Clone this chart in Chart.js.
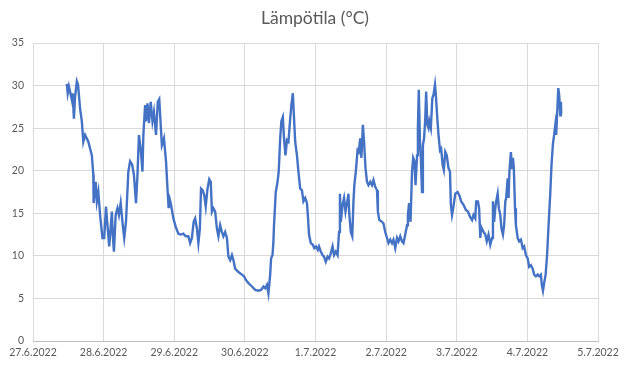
<!DOCTYPE html>
<html>
<head>
<meta charset="utf-8">
<script src="https://cdn.jsdelivr.net/npm/chart.js@4"></script>
<style>
  html, body { margin: 0; padding: 0; background: #fff; }
  #wrap { width: 630px; height: 373px; }
</style>
</head>
<body>
<div id="wrap"><canvas id="chart" width="630" height="373"></canvas></div>
<script>
/* ===== DATA ===== */
const TITLE = 'Lämpötila (°C)';
const DATE_LABELS = ['27.6.2022', '28.6.2022', '29.6.2022', '30.6.2022', '1.7.2022',
                     '2.7.2022', '3.7.2022', '4.7.2022', '5.7.2022'];
const Y_TICKS = [0, 5, 10, 15, 20, 25, 30, 35];

// hours since 27.6.2022 00:00
const hours = [
  11.5, 11.8, 12.2, 12.6, 13.2, 13.5, 13.9, 14.3, 14.9, 15.3, 16.0, 16.6, 17.1, 17.7, 18.8, 20.0,
  20.5, 20.6, 21.3, 21.7, 22.2, 22.8, 23.6, 24.2, 24.8, 25.4, 25.9, 26.8, 27.1, 27.5, 28.1, 28.7,
  29.2, 29.8, 30.5, 31.0, 31.6, 32.4, 33.0, 33.7, 34.3, 35.0, 35.5, 36.0, 36.6, 37.2, 37.5, 38.1,
  38.4, 38.9, 39.4, 40.0, 40.6, 41.1, 41.8, 42.4, 42.9, 43.4, 43.8, 44.5, 45.2, 45.7, 46.1, 46.5,
  46.9, 47.7, 48.5, 49.4, 50.2, 51.1, 51.9, 52.8, 53.4, 54.0, 54.6, 55.1, 55.7, 56.2, 56.7, 57.1,
  57.7, 58.2, 58.7, 59.3, 59.9, 60.4, 60.8, 61.3, 61.9, 62.5, 63.0, 63.6, 64.2, 64.7, 65.3, 65.9,
  66.4, 67.0, 67.6, 68.1, 68.7, 69.8, 71.0, 71.7, 72.3, 73.2, 74.4, 75.5, 76.6, 77.5, 78.3, 78.9,
  79.5, 80.0, 80.6, 80.9, 81.4, 81.7, 81.9, 82.5, 83.1, 83.5, 84.0, 84.4, 84.9, 85.3, 85.8, 86.3,
  86.8, 87.4, 87.8, 88.3, 88.6, 89.1, 89.7, 90.2, 90.8, 91.4, 91.9, 92.5, 93.1, 93.4, 93.8, 94.4,
  95.1, 95.6, 96.2, 96.8, 97.2, 97.8, 98.4, 98.9, 99.5, 100.1, 100.6, 101.2, 101.8, 102.3, 102.9, 103.5,
  104.0, 104.3, 104.6, 105.2, 105.7, 106.2, 106.8, 107.2, 107.5, 108.0, 108.5, 108.9, 109.2, 109.7, 110.3, 110.7,
  111.2, 111.6, 112.1, 112.5, 113.0, 113.5, 114.0, 114.6, 115.2, 115.7, 116.3, 116.9, 117.2, 117.7, 118.6, 119.1,
  119.7, 120.3, 120.8, 121.4, 122.0, 122.5, 123.1, 123.7, 124.2, 124.8, 125.4, 125.9, 126.5, 127.1, 127.4, 127.8,
  128.3, 128.8, 129.2, 129.6, 130.0, 130.5, 130.8, 131.1, 131.5, 131.8, 132.2, 132.5, 132.9, 133.3, 133.6, 134.0,
  134.4, 134.7, 135.2, 135.7, 136.1, 136.6, 136.9, 137.4, 137.8, 138.3, 138.7, 139.2, 139.6, 140.1, 140.6, 141.2,
  141.7, 142.0, 142.4, 142.8, 143.5, 144.3, 144.9, 145.5, 146.3, 147.1, 147.8, 148.5, 149.2, 149.7, 150.3, 150.6,
  151.2, 151.6, 152.0, 152.3, 153.1, 153.7, 154.2, 154.8, 155.4, 156.0, 156.3, 156.7, 157.1, 157.4, 157.9, 158.3,
  158.8, 159.2, 159.7, 160.1, 160.5, 160.8, 161.3, 161.6, 161.9, 162.4, 162.8, 163.1, 163.4, 163.8, 164.1, 164.7,
  165.2, 165.8, 166.4, 166.9, 167.5, 168.1, 168.6, 169.2, 169.8, 170.3, 170.9, 171.5, 172.0, 172.6, 172.9, 173.3,
  173.7, 174.2, 174.7, 175.2, 175.8, 176.2, 176.7, 177.1, 177.5, 177.8, 178.2, 178.5, 178.8, 179.2, 179.4, 179.5
];

const temps = [
  30.2, 29.1, 29.9, 29.3, 28.3, 29.1, 26.1, 28.7, 30.5, 30.1, 27.3, 25.8, 23.4, 24.2, 23.4, 21.8,
  19.5, 16.2, 18.7, 16.4, 17.5, 14.8, 12.1, 12.1, 15.8, 13.2, 11.1, 15.2, 12.5, 10.5, 14.8, 15.6,
  14.8, 16.2, 13.6, 12.1, 14.0, 19.9, 21.1, 20.7, 19.5, 16.2, 19.5, 24.2, 22.6, 19.9, 24.2, 27.7,
  25.8, 27.9, 25.6, 28.1, 25.8, 26.9, 24.2, 28.1, 28.4, 25.4, 23.0, 23.8, 21.1, 17.9, 15.6, 16.6,
  16.0, 14.4, 13.4, 12.6, 12.5, 12.6, 12.3, 12.3, 11.5, 12.1, 14.0, 14.4, 13.2, 11.5, 13.2, 17.9,
  17.7, 17.1, 15.8, 17.9, 19.0, 18.7, 15.2, 15.6, 15.2, 13.2, 12.3, 13.6, 12.8, 12.3, 12.8, 12.1,
  9.9, 9.5, 10.1, 9.5, 8.5, 8.1, 7.8, 7.6, 7.2, 6.8, 6.4, 6.0, 5.9, 6.0, 6.4, 6.2,
  6.6, 5.6, 7.8, 9.7, 10.1, 11.7, 13.6, 17.5, 18.7, 19.9, 23.8, 25.8, 26.3, 23.8, 21.8, 23.6,
  23.4, 26.1, 27.7, 29.1, 26.9, 23.4, 21.8, 19.9, 17.9, 17.7, 16.4, 16.8, 16.2, 14.8, 12.5, 11.5,
  11.3, 10.9, 11.1, 10.7, 11.1, 10.5, 10.1, 9.9, 9.3, 9.9, 9.7, 10.3, 11.1, 10.1, 10.5, 10.1,
  12.8, 17.3, 14.0, 16.0, 16.8, 15.2, 16.4, 17.3, 14.8, 12.8, 12.3, 16.4, 18.3, 19.9, 22.4, 22.2,
  23.8, 21.5, 25.4, 23.4, 20.3, 18.7, 18.3, 18.7, 18.3, 18.9, 18.1, 17.7, 15.2, 14.2, 14.0, 13.8,
  12.8, 12.1, 11.5, 11.9, 11.5, 11.9, 10.9, 12.1, 11.7, 12.3, 11.7, 11.5, 12.5, 13.6, 14.8, 16.2,
  14.0, 19.9, 21.5, 21.1, 18.3, 21.8, 25.0, 29.5, 23.4, 21.5, 17.5, 23.0, 23.8, 26.1, 29.3, 25.4,
  25.0, 25.8, 25.0, 28.5, 28.9, 30.1, 28.9, 26.1, 24.2, 22.4, 22.6, 20.7, 20.1, 22.2, 21.8, 20.3,
  19.9, 16.0, 14.8, 15.6, 17.3, 17.5, 17.1, 16.4, 16.0, 15.4, 15.2, 14.6, 14.2, 14.8, 14.4, 16.4,
  16.4, 15.6, 12.1, 13.4, 12.8, 12.5, 11.7, 12.5, 11.3, 12.1, 16.4, 14.0, 15.6, 16.4, 17.3, 15.6,
  14.8, 13.2, 12.5, 13.6, 16.4, 16.8, 19.1, 16.8, 19.9, 22.2, 20.3, 21.5, 20.3, 15.6, 13.6, 12.1,
  11.7, 11.9, 10.9, 11.1, 10.1, 9.7, 8.7, 8.9, 8.5, 7.8, 7.6, 7.8, 7.6, 7.8, 6.6, 5.9,
  6.8, 7.8, 10.1, 13.6, 17.5, 20.7, 23.2, 24.2, 25.4, 24.2, 27.3, 29.7, 28.9, 26.5, 28.1, 26.7
];

/* ===== STYLE ===== */
const LINE_COLOR = '#4472C4';
const GRID_COLOR = '#d9d9d9';
const TEXT_COLOR = '#595959';
const FONT = 'Lato, "Open Sans", sans-serif';

const points = hours.map((h, i) => ({ x: h, y: temps[i] }));

new Chart(document.getElementById('chart'), {
  type: 'line',
  data: {
    datasets: [{
      data: points,
      borderColor: LINE_COLOR,
      borderWidth: 2.4,
      pointRadius: 0,
      tension: 0,
      fill: false,
    }],
  },
  options: {
    responsive: false,
    animation: false,
    // no layout padding so the full-width title stays centred on the canvas;
    // the right margin comes from the x scale padding instead
    layout: { padding: 0 },
    plugins: {
      legend: { display: false },
      tooltip: { enabled: false },
      title: {
        display: true,
        text: TITLE,
        color: TEXT_COLOR,
        font: { family: FONT, size: 17.5, weight: 'normal' },
        padding: { top: 7.5, bottom: 14.5 },
      },
    },
    scales: {
      x: {
        type: 'linear',
        min: 0,
        max: 192,
        afterFit(scale) {
          scale.height = 32;
          scale.paddingLeft = 0;
          scale.paddingRight = 32;
        },
        afterBuildTicks(scale) {
          scale.ticks = DATE_LABELS.map((_, i) => ({ value: i * 24 }));
        },
        ticks: {
          autoSkip: false,
          maxRotation: 0,
          padding: 5,
          color: TEXT_COLOR,
          font: { family: FONT, size: 10.5 },
          callback: (v) => DATE_LABELS[Math.round(v / 24)],
        },
        grid: { color: GRID_COLOR, drawTicks: false },
        border: { color: '#bfbfbf' },
      },
      y: {
        min: 0,
        max: 35,
        afterFit(scale) { scale.width = 33; },
        afterBuildTicks(scale) {
          scale.ticks = Y_TICKS.map((v) => ({ value: v }));
        },
        ticks: {
          padding: 9,
          color: TEXT_COLOR,
          font: { family: FONT, size: 10.5 },
        },
        grid: { color: GRID_COLOR, drawTicks: false },
        border: { display: false },
      },
    },
  },
});
</script>
</body>
</html>
